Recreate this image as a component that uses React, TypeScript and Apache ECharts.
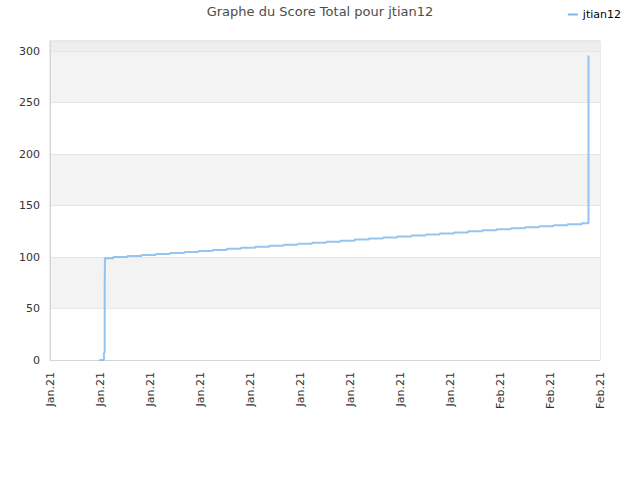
import React from 'react';
import * as echarts from 'echarts';

// x positions are day offsets from the first tick (Jan. 2021)
const DAY_SPAN = 38.73;
const tickLabels = [
  'Jan.21', 'Jan.21', 'Jan.21', 'Jan.21', 'Jan.21', 'Jan.21',
  'Jan.21', 'Jan.21', 'Jan.21', 'Feb.21', 'Feb.21', 'Feb.21',
];
const days = [
  3.47, 3.8, 3.85, 3.85, 3.85, 3.87,
  4.45, 5.45, 6.45, 7.45, 8.45, 9.45, 10.45, 11.45, 12.45, 13.45,
  14.45, 15.45, 16.45, 17.45, 18.45, 19.45, 20.45, 21.45, 22.45, 23.45,
  24.45, 25.45, 26.45, 27.45, 28.45, 29.45, 30.45, 31.45, 32.45, 33.45,
  34.45, 35.45, 36.45, 37.45,
  37.92, 37.92, 37.92, 37.92, 37.92,
];
const scores = [
  0, 7, 23, 43, 70, 99,
  100, 101, 102, 103, 104, 105, 106, 107, 108, 109,
  110, 111, 112, 113, 114, 115, 116, 117, 118, 119,
  120, 121, 122, 123, 124, 125, 126, 127, 128, 129,
  130, 131, 132, 133,
  133, 169, 207, 250, 296,
];

const App = () => {
  const chartRef = React.useRef(null);

  React.useEffect(() => {
    const myChart = echarts.init(chartRef.current, null, { renderer: 'svg' });
    const units = tickLabels.length - 1;

    myChart.setOption({
      animation: false,
      textStyle: { fontFamily: 'DejaVu Sans' },
      title: {
        text: 'Graphe du Score Total pour jtian12',
        left: 'center',
        top: 5,
        padding: 0,
        textStyle: { fontSize: 13, fontWeight: 'normal', color: '#4d4d4d' },
      },
      legend: {
        right: 19,
        top: 9,
        padding: 0,
        icon: 'rect',
        itemWidth: 10,
        itemHeight: 2,
        itemGap: 6,
        textStyle: { fontSize: 11, color: '#000' },
        data: ['jtian12'],
      },
      grid: {
        left: 50,
        right: 40,
        top: 41,
        bottom: 120,
        show: true,
        borderColor: '#d6d6d6',
        borderWidth: 1,
      },
      xAxis: {
        type: 'value',
        min: 0,
        max: units,
        interval: 1,
        axisLine: { show: true, lineStyle: { color: '#d6d6d6' } },
        axisTick: { show: false },
        splitLine: { show: false },
        axisLabel: {
          rotate: 90,
          fontSize: 11,
          color: '#333',
          margin: 12,
          formatter: (v: number) => tickLabels[Math.round(v)] ?? '',
        },
      },
      yAxis: {
        type: 'value',
        min: 0,
        max: 310,
        interval: 50,
        axisLine: { show: true, lineStyle: { color: '#d6d6d6' } },
        axisTick: { show: false },
        axisLabel: { fontSize: 11, color: '#333', showMaxLabel: false, margin: 10 },
        splitLine: { lineStyle: { color: '#e6e6e6' } },
        splitArea: {
          show: true,
          areaStyle: {
            color: ['#ffffff', '#f3f3f3', '#ffffff', '#f3f3f3', '#ffffff', '#f3f3f3', '#eeeeee'],
          },
        },
      },
      series: [
        {
          name: 'jtian12',
          type: 'line',
          step: 'end',
          showSymbol: false,
          color: '#7cb5ec',
          lineStyle: { width: 2, opacity: 0.8 },
          data: days.map((d, i) => [(d * units) / DAY_SPAN, scores[i]]),
        },
      ],
    });

    return () => {
      myChart.dispose();
    };
  }, []);

  return (
    <div
      ref={chartRef}
      style={{ position: 'absolute', left: 0, top: 0, width: '640px', height: '480px' }}
    />
  );
};

export default App;
